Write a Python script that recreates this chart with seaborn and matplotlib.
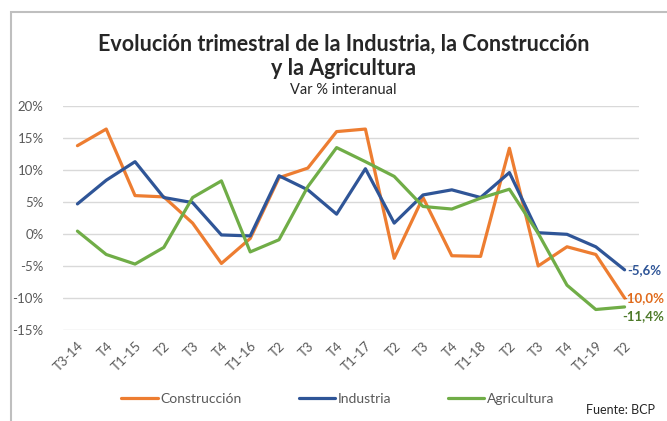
import matplotlib
matplotlib.use('Agg')
import numpy as np
import pandas as pd
import matplotlib.pyplot as plt
import seaborn as sns
from matplotlib.patches import Rectangle
from matplotlib import ticker

trimestres = ['T3-14', 'T4', 'T1-15', 'T2', 'T3', 'T4', 'T1-16', 'T2', 'T3', 'T4',
              'T1-17', 'T2', 'T3', 'T4', 'T1-18', 'T2', 'T3', 'T4', 'T1-19', 'T2']
construccion = [13.8, 16.4, 6.0, 5.8, 1.7, -4.6, -0.7, 8.8, 10.3, 16.0,
                16.4, -3.8, 5.7, -3.4, -3.5, 13.4, -5.0, -2.0, -3.2, -10.0]
industria = [4.7, 8.4, 11.3, 5.7, 4.9, -0.15, -0.3, 9.1, 6.9, 3.1,
             10.2, 1.7, 6.1, 6.9, 5.7, 9.6, 0.2, -0.05, -2.0, -5.6]
agricultura = [0.45, -3.2, -4.7, -2.1, 5.7, 8.3, -2.8, -0.9, 7.4, 13.5,
               11.3, 9.0, 4.3, 3.9, 5.6, 7.0, 0.1, -8.0, -11.8, -11.4]

series = {'Construcción': construccion, 'Industria': industria, 'Agricultura': agricultura}
colores = {'Construcción': '#ED7D31', 'Industria': '#2F5597', 'Agricultura': '#70AD47'}
etiquetas = {'Construcción': ('-10,0%', '#E06A1B'), 'Industria': ('-5,6%', '#2F5597'),
             'Agricultura': ('-11,4%', '#4E7A2A')}

df = pd.concat([pd.DataFrame({'x': np.arange(len(trimestres)), 'valor': v, 'serie': k})
                for k, v in series.items()], ignore_index=True)

sns.set_style('white')
plt.rcParams['font.family'] = ['Lato', 'DejaVu Sans']

fig = plt.figure(figsize=(6.67, 4.21), dpi=100)
ax = fig.add_axes([0.0945, 0.2162, 0.8635, 0.532])

sns.lineplot(data=df, x='x', y='valor', hue='serie', palette=colores, linewidth=2.3,
             sort=False, ax=ax)

ax.set_xlim(-0.5, len(trimestres) - 0.5)
ax.set_ylim(-15, 20)
ax.yaxis.set_major_locator(ticker.MultipleLocator(5))
ax.yaxis.set_major_formatter(ticker.FuncFormatter(lambda v, p: f'{v:.0f}%'))
ax.set_xticks(np.arange(len(trimestres)))
ax.set_xticklabels(trimestres, rotation=45, ha='right', rotation_mode='anchor')
ax.tick_params(axis='both', colors='#595959', labelsize=9.5, length=0)
ax.tick_params(axis='x', pad=7)
ax.tick_params(axis='y', pad=14)
ax.grid(axis='y', color='#D9D9D9', linewidth=1)
for s in ax.spines.values():
    s.set_visible(False)
ax.set_xlabel('')
ax.set_ylabel('')

# data labels at the end of each series
offsets = {'Construcción': (-2, 0), 'Industria': (2, 0), 'Agricultura': (-2, -6.5)}
for k, v in series.items():
    txt, col = etiquetas[k]
    ax.annotate(txt, xy=(len(trimestres) - 1, v[-1]), xytext=offsets[k],
                textcoords='offset points', ha='left', va='center',
                color=col, fontsize=9.5, fontweight='bold', annotation_clip=False)

ax.legend(loc='center', bbox_to_anchor=(0.477, -0.306), ncol=3, frameon=False,
          handlelength=2.6, columnspacing=4.1, handletextpad=0.2, fontsize=10,
          labelcolor='#595959')

fig.text(0.515, 0.866, 'Evolución trimestral de la Industria, la Construcción\ny la Agricultura',
         ha='center', va='center', fontsize=15.5, fontweight='bold', linespacing=1.15)
fig.text(0.515, 0.786, 'Var % interanual', ha='center', va='center', fontsize=10.5,
         color='#262626')
fig.text(0.982, 0.026, 'Fuente: BCP', ha='right', va='center', fontsize=9, color='#262626')

fig.add_artist(Rectangle((0.016, -0.5), 2, 0.5 + 0.971, transform=fig.transFigure,
                         fill=False, edgecolor='#BFBFBF', linewidth=1.5))

fig.savefig('out.png', dpi=100, facecolor='white')
